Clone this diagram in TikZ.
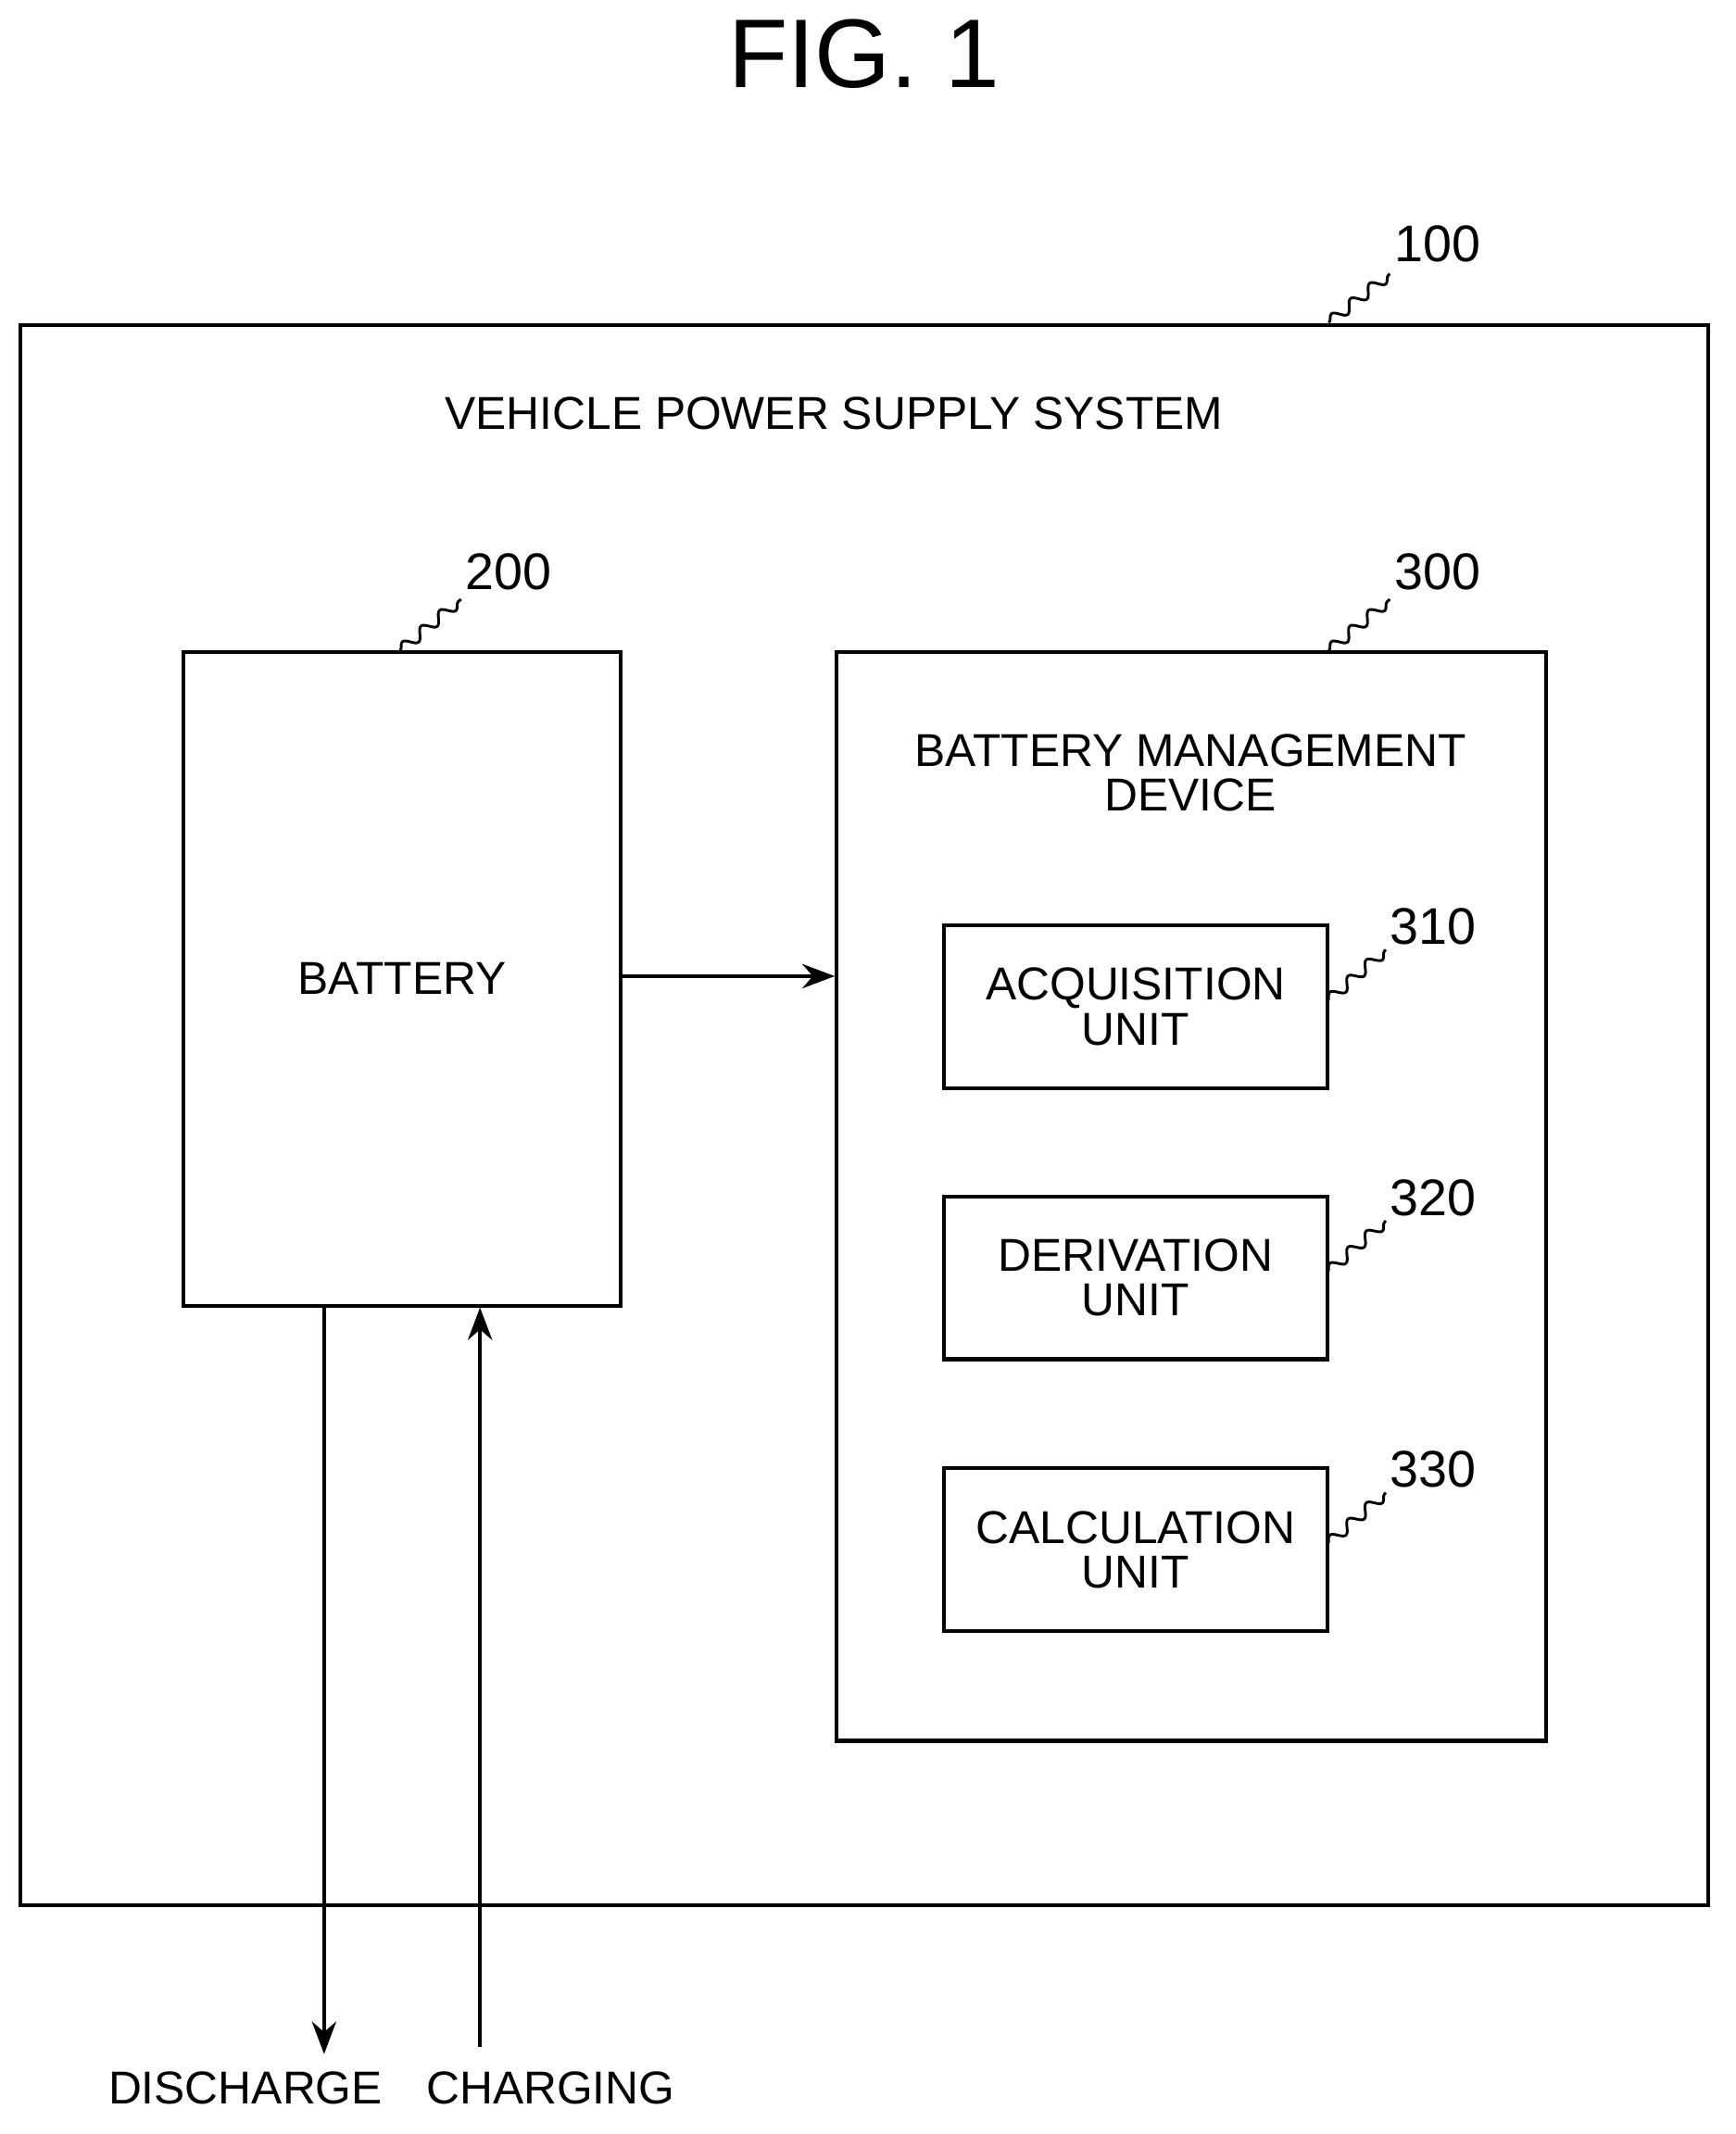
\documentclass[tikz,border=0pt]{standalone}
\usepackage{fontspec}
\setmainfont{Liberation Sans}
\usetikzlibrary{decorations.pathmorphing,arrows.meta}
\begin{document}
\begin{tikzpicture}[x=0.5pt,y=-0.5pt,
  box/.style={draw,line width=1.4pt},
  txt/.style={font=\fontsize{17}{16.5}\selectfont,align=center},
  num/.style={font=\fontsize{19}{22}\selectfont},
  sq/.style={decorate,decoration={snake,amplitude=2pt,segment length=9pt},line width=1pt},
  arr/.style={line width=1.2pt,-{Stealth[length=12pt,width=9pt]}}]
\useasboundingbox (0,0) rectangle (1280,1574);
\node[font=\fontsize{36}{40}\selectfont] (fig) at (637,40) {FIG. 1};
\draw[box] (15,240) rectangle (1260,1405);
\node[txt] (vps) at (615,305) {VEHICLE POWER SUPPLY SYSTEM};
\node[num] (l100) at (1060,180) {100};
\draw[sq] (980,238) -- (1025,202);
\node[box,minimum width=323*0.5pt,minimum height=482*0.5pt,txt] (bat) at (296.5,722) {BATTERY};
\node[num] (l200) at (375,422) {200};
\draw[sq] (295,480) -- (340,442);
\node[box,minimum width=523*0.5pt,minimum height=803*0.5pt] (bmd) at (878.5,882.5) {};
\node[txt] (bmdt) at (878,570) {BATTERY MANAGEMENT\\DEVICE};
\node[num] (l300) at (1060,422) {300};
\draw[sq] (980,480) -- (1025,442);
\foreach \n/\y/\t in {310/742.5/ACQUISITION,320/942.5/DERIVATION,330/1143/CALCULATION}{
  \node[box,minimum width=283*0.5pt,minimum height=120*0.5pt,txt] (u\n) at (837.5,\y) {\t\\UNIT};
  \node[num] (l\n) at (1057,\y-59) {\n};
  \draw[sq] (979,\y-4) -- (1022,\y-42);
}
\draw[arr] (bat.east |- 0,720) -- (bmd.west |- 0,720);
\coordinate (dis) at (239,1515);
\coordinate (chg) at (354,1510);
\draw[arr] (bat.south -| dis) -- (dis);
\draw[arr] (chg) -- (bat.south -| chg);
\node[txt] (dt) at (181,1540) {DISCHARGE};
\node[txt] (ct) at (406,1540) {CHARGING};
\end{tikzpicture}
\end{document}
